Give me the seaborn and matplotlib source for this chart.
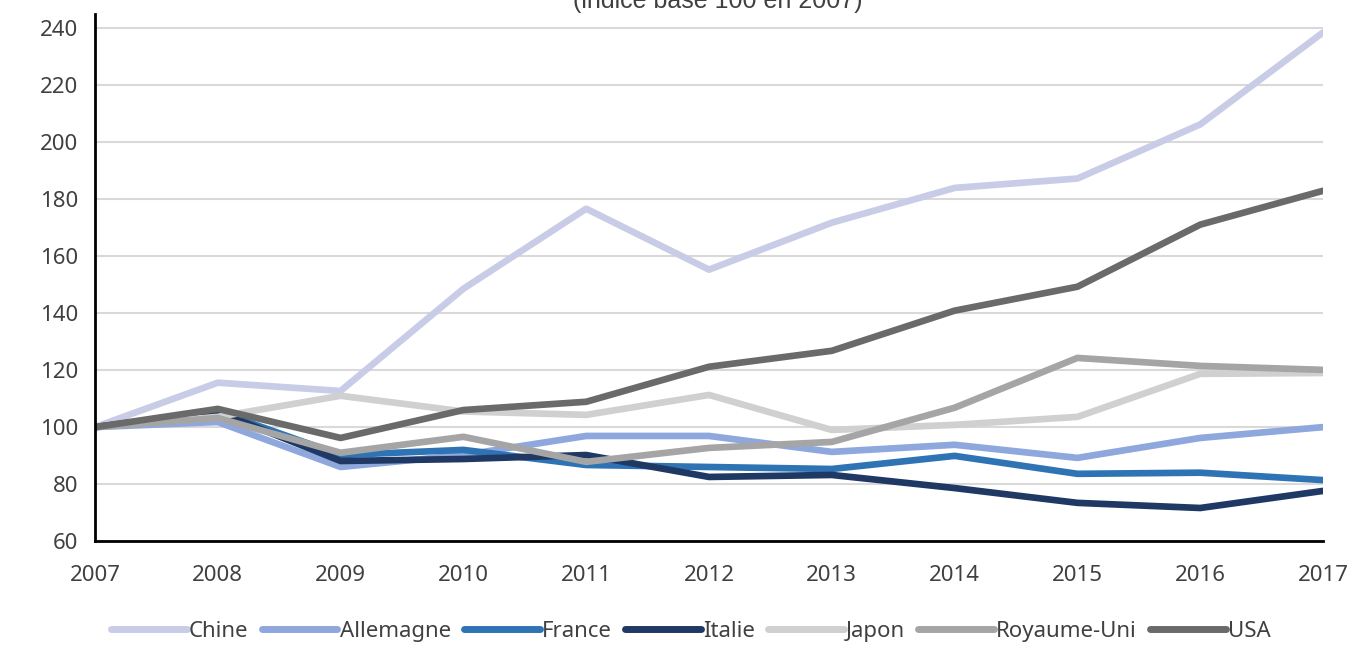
import matplotlib
matplotlib.use("Agg")
import matplotlib.pyplot as plt
import seaborn as sns
import pandas as pd

annees = [2007, 2008, 2009, 2010, 2011, 2012, 2013, 2014, 2015, 2016, 2017]

chine = [100, 115.6, 112.7, 148.6, 176.7, 155.3, 171.8, 184, 187.3, 206.3, 238.6]
allemagne = [100, 101.8, 86, 90.2, 96.9, 96.9, 91.3, 93.8, 89.2, 96.2, 100]
france = [100, 105.5, 90.2, 92, 86.7, 86, 85.3, 89.9, 83.6, 84, 81.4]
italie = [100, 105.4, 88.1, 88.8, 90.2, 82.5, 83.2, 78.6, 73.4, 71.6, 77.6]
japon = [100, 103.6, 111, 105.5, 104.3, 111.3, 99, 100.8, 103.6, 118.7, 119]
royaume_uni = [100, 103.2, 91, 96.6, 87.8, 92.7, 94.8, 106.8, 124.3, 121.5, 120.1]
usa = [100, 106.4, 96.2, 106, 108.9, 121.2, 126.8, 140.9, 149.3, 171.1, 183]

pays = ["Chine", "Allemagne", "France", "Italie", "Japon", "Royaume-Uni", "USA"]
couleurs = ["#c8cce6", "#8ea7dc", "#2e74b5", "#1f3864", "#d0d0d0", "#a5a5a5", "#6a6a6a"]

series = [chine, allemagne, france, italie, japon, royaume_uni, usa]
lignes = []
for nom, valeurs in zip(pays, series):
    for a, v in zip(annees, valeurs):
        lignes.append({"annee": a, "valeur": v, "pays": nom})
df = pd.DataFrame(lignes)

sns.set_style("white")
plt.rcParams['font.family'] = ['Noto Sans', 'DejaVu Sans']

fig = plt.figure(figsize=(13.55, 6.46), dpi=100)
ax = fig.add_axes([0.0701, 0.1625, 0.9063, 0.8155])

sns.lineplot(data=df, x="annee", y="valeur", hue="pays", hue_order=pays,
             palette=couleurs, linewidth=4.8, ax=ax, legend=False)

ax.set_xlim(2007, 2017)
ax.set_ylim(60, 245)
ax.set_yticks(range(60, 241, 20))
ax.set_xticks(annees)
ax.set_xlabel("")
ax.set_ylabel("")
ax.yaxis.grid(True, color="#d9d9d9", linewidth=1.5)
ax.set_axisbelow(True)
for s in ["top", "right"]:
    ax.spines[s].set_visible(False)
ax.spines["left"].set_color("black")
ax.spines["bottom"].set_color("black")
ax.spines["left"].set_linewidth(2)
ax.spines["bottom"].set_linewidth(2)
ax.tick_params(axis="x", length=7, width=2, color="black", direction="out",
               labelsize=16, labelcolor="#404040", pad=10)
ax.tick_params(axis="y", length=0, labelsize=16, labelcolor="#404040", pad=12)

# titre coupé en haut de l'image
fig.text(0.53, 0.998, "(indice base 100 en 2007)", ha="center", va="center",
         fontsize=18, color="#404040", family=["Liberation Sans", "DejaVu Sans"])

handles = [plt.Line2D([], [], color=c, linewidth=5) for c in couleurs]
fig.legend(handles, pays, loc="lower center", bbox_to_anchor=(0.51, -0.025),
           ncol=7, frameon=False, fontsize=16, handlelength=3.4,
           handletextpad=0.1, columnspacing=0.6, labelcolor="#404040")

fig.savefig("out.png", dpi=100)
